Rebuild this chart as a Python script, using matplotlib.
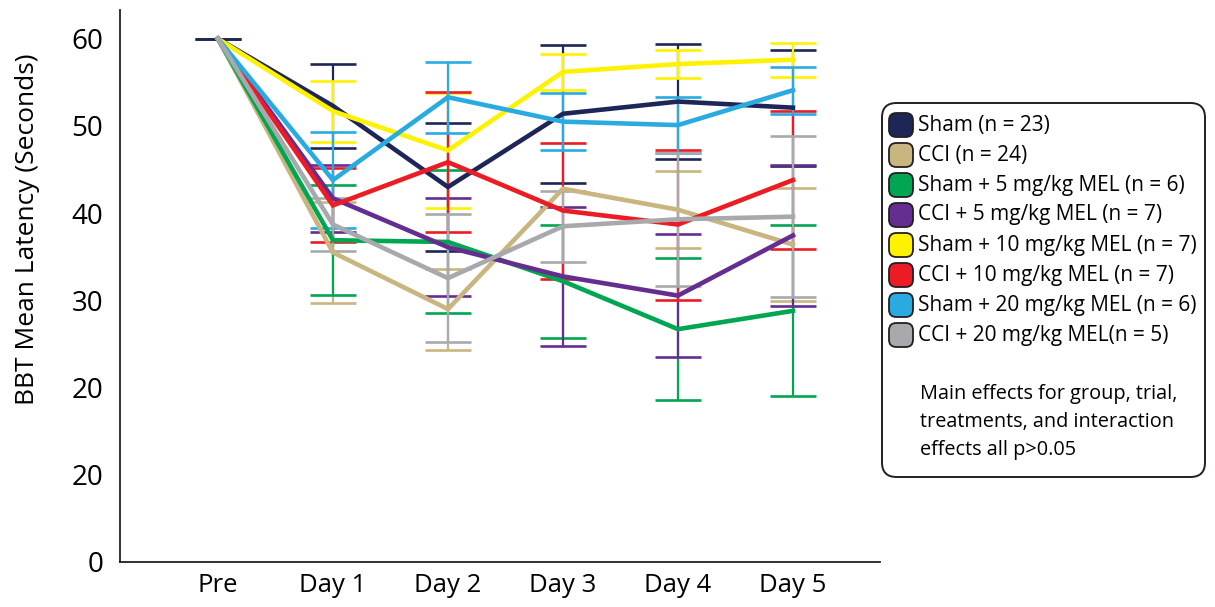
import numpy as np
import matplotlib
matplotlib.use("Agg")
import matplotlib.pyplot as plt
from matplotlib import font_manager
from matplotlib.patches import FancyBboxPatch

nan = np.nan

# Trial labels along the x axis
days = ["Pre", "Day 1", "Day 2", "Day 3", "Day 4", "Day 5"]

# Group names shown in the key
groups = [
    "Sham (n = 23)",
    "CCI (n = 24)",
    "Sham + 5 mg/kg MEL (n = 6)",
    "CCI + 5 mg/kg MEL (n = 7)",
    "Sham + 10 mg/kg MEL (n = 7)",
    "CCI + 10 mg/kg MEL (n = 7)",
    "Sham + 20 mg/kg MEL (n = 6)",
    "CCI + 20 mg/kg MEL(n = 5)",
]

# Mean latency (s) per trial, and error (s)
sham_mean = [60, 52.3, 43.0, 51.4, 52.8, 52.1]
sham_err = [0, 4.8, 7.35, 7.9, 6.55, 6.65]
cci_mean = [60, 35.5, 29.0, 42.8, 40.4, 36.4]
cci_err = [nan, 5.8, 4.65, nan, 4.4, 6.5]
sham5_mean = [60, 36.9, 36.7, 32.2, 26.7, 28.8]
sham5_err = [nan, 6.3, 8.2, 6.5, 8.15, 9.8]
cci5_mean = [60, 41.7, 36.1, 32.75, 30.55, 37.45]
cci5_err = [nan, 3.85, 5.65, 7.95, 7.05, 8.05]
sham10_mean = [60, 51.7, 47.2, 56.2, 57.1, 57.6]
sham10_err = [nan, 3.5, 6.6, 2.05, 1.65, 1.95]
cci10_mean = [60, 40.9, 45.85, 40.3, 38.7, 43.8]
cci10_err = [nan, 4.25, 8.05, 7.8, 8.6, 7.9]
sham20_mean = [60, 43.8, 53.3, 50.5, 50.1, 54.1]
sham20_err = [nan, 5.5, 4.05, 3.3, 3.2, 2.7]
cci20_mean = [60, 38.7, 32.55, 38.5, 39.3, 39.6]
cci20_err = [nan, 3.0, 7.35, 4.1, 7.6, 9.2]

# y tick values and the labels printed beside them
ytick_vals = [0, 10, 20, 30, 40, 50, 60]
ytick_labels = ["0", "20", "20", "30", "40", "50", "60"]

means = [sham_mean, cci_mean, sham5_mean, cci5_mean,
         sham10_mean, cci10_mean, sham20_mean, cci20_mean]
errs = [sham_err, cci_err, sham5_err, cci5_err,
        sham10_err, cci10_err, sham20_err, cci20_err]
colors = ["#1d2657", "#c9b580", "#00a651", "#662d91",
          "#fff200", "#ed1c24", "#29abe2", "#a7a9ac"]

installed = {f.name for f in font_manager.fontManager.ttflist}
main_font = "Open Sans" if "Open Sans" in installed else "DejaVu Sans"

fig = plt.figure(figsize=(12.15, 6.07), dpi=100)
ax = fig.add_axes([120 / 1215, 1 - 562 / 607, 760 / 1215, 552 / 607])

x = np.arange(len(days))

# error bars first, connecting lines on top
for m, e, c in zip(means, errs, colors):
    ax.errorbar(x, m, yerr=e, fmt="none", ecolor=c, elinewidth=1.6,
                capsize=16.5, capthick=1.9, zorder=2)
for m, c in zip(means, colors):
    ax.plot(x, m, color=c, lw=3.3, solid_joinstyle="miter", zorder=3)

ax.set_xlim(-0.852, 5.757)
ax.set_ylim(0, 63.3)
ax.set_yticks(ytick_vals)
ax.set_yticklabels(ytick_labels, fontsize=20, family=main_font)
ax.set_xticks(x)
ax.set_xticklabels(days, fontsize=18.5, family=main_font)
ax.tick_params(axis="both", length=0)
ax.tick_params(axis="y", pad=12)
ax.tick_params(axis="x", pad=8)
for side in ("top", "right"):
    ax.spines[side].set_visible(False)
for side in ("left", "bottom"):
    ax.spines[side].set_linewidth(1.3)
    ax.spines[side].set_color("#231f20")

fig.text(28 / 1215, 1 - 229 / 607, "BBT Mean Latency (Seconds)",
         rotation=90, ha="center", va="center", fontsize=19, family=main_font)

# key box
W, H = 1215, 607
def fx(px):
    return px / W
def fy(py):
    return 1 - py / H

box = FancyBboxPatch((fx(882), fy(477)), fx(1205) - fx(882), fy(103) - fy(477),
                     boxstyle="round,pad=0,rounding_size=0.012",
                     transform=fig.transFigure, facecolor="white",
                     edgecolor="#231f20", linewidth=1.4, mutation_aspect=2.0)
fig.add_artist(box)

row0, step = 125, 30
for i, (name, c) in enumerate(zip(groups, colors)):
    yc = row0 + i * step
    sq = FancyBboxPatch((fx(889), fy(yc + 12)), fx(24), 24 / H,
                        boxstyle="round,pad=0,rounding_size=0.006",
                        transform=fig.transFigure, facecolor=c,
                        edgecolor="#231f20", linewidth=1.3, mutation_aspect=2.0)
    fig.add_artist(sq)
    fig.text(fx(918), fy(yc), name, ha="left", va="center",
             fontsize=15, family=main_font)

note_lines = ["Main effects for group, trial,",
              "treatments, and interaction",
              "effects all p>0.05"]
for j, line in enumerate(note_lines):
    fig.text(fx(920), fy(394 + j * 28), line, ha="left", va="center",
             fontsize=14.3, family=main_font)

fig.savefig("out.png", dpi=100)
